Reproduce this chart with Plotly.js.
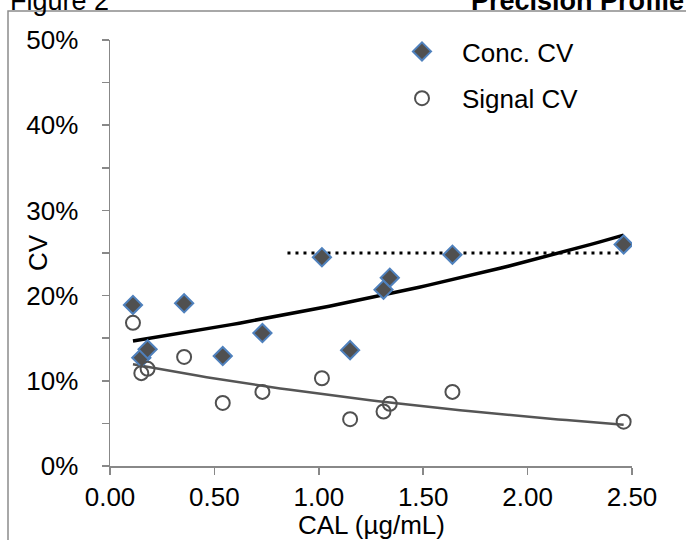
<!DOCTYPE html>
<html><head><meta charset="utf-8">
<script src="https://cdn.plot.ly/plotly-3.0.1.min.js"></script>
<style>html,body{margin:0;padding:0;background:#fff;overflow:hidden}#chart{width:686px;height:540px;}</style>
</head><body><div id="chart"></div>
<script>
// Data
const calValues = [0.11, 0.15, 0.18, 0.355, 0.54, 0.73, 1.015, 1.15, 1.31, 1.34, 1.64, 2.46];
const concCV    = [0.189, 0.127, 0.137, 0.191, 0.129, 0.156, 0.245, 0.136, 0.207, 0.221, 0.248, 0.260];
const signalCV  = [0.168, 0.109, 0.114, 0.128, 0.074, 0.087, 0.103, 0.055, 0.064, 0.073, 0.087, 0.052];
const limitX    = [0.85, 2.45];
const limitCV   = [0.25, 0.25];
const seriesNames = ['Conc. CV', 'Signal CV'];
const xTitle = 'CAL (µg/mL)';
const yTitle = 'CV';

// Exponential trendline (least squares on ln y), as the spreadsheet does
function expFit(xs, ys) {
  const n = xs.length; let sx = 0, sy = 0, sxx = 0, sxy = 0;
  for (let i = 0; i < n; i++) { const l = Math.log(ys[i]); sx += xs[i]; sy += l; sxx += xs[i] * xs[i]; sxy += xs[i] * l; }
  const b = (n * sxy - sx * sy) / (n * sxx - sx * sx); const a = (sy - b * sx) / n;
  return x => Math.exp(a + b * x);
}
function trend(xs, ys) {
  const f = expFit(xs, ys); const lo = Math.min(...xs), hi = Math.max(...xs);
  const tx = [], ty = [];
  for (let i = 0; i <= 60; i++) { const x = lo + (hi - lo) * i / 60; tx.push(x); ty.push(f(x)); }
  return {x: tx, y: ty};
}
const tConc = trend(calValues, concCV);
const tSig = trend(calValues, signalCV);

const FONT = 'Liberation Sans, Arial, sans-serif';
const traces = [
  {x: limitX, y: limitCV, mode: 'lines', showlegend: false, hoverinfo: 'skip',
   line: {color: '#000', width: 3, dash: '3px,5px'}},
  {x: tConc.x, y: tConc.y, mode: 'lines', showlegend: false, line: {color: '#000', width: 3.5}},
  {x: tSig.x, y: tSig.y, mode: 'lines', showlegend: false, line: {color: '#555', width: 2.5}},
  {x: calValues, y: concCV, name: seriesNames[0], mode: 'markers', legendgroup: 'a',
   marker: {symbol: 'diamond', size: 14, color: '#505050', line: {color: '#4f81bd', width: 2}}},
  {x: calValues, y: signalCV, name: seriesNames[1], mode: 'markers', legendgroup: 'b',
   marker: {symbol: 'circle-open', size: 14, color: '#505050', line: {color: '#505050', width: 2}}}
];

const W = 522, H = 426, L = 110, T = 40;
const px = p => (p - L) / W;
const py = p => (T + H - p) / H;

const layout = {
  width: 686, height: 540,
  margin: {l: L, r: 686 - L - W, t: T, b: 540 - T - H, pad: 0},
  paper_bgcolor: '#fff', plot_bgcolor: '#fff',
  font: {family: FONT, size: 26, color: '#000'},
  showlegend: true,
  legend: {x: px(382), y: py(28), xanchor: 'left', yanchor: 'top', bgcolor: 'rgba(0,0,0,0)',
    font: {family: FONT, size: 26, color: '#000'}, itemwidth: 70, tracegroupgap: 10, traceorder: 'grouped'},
  xaxis: {range: [0, 2.5], dtick: 0.5, tickformat: '.2f', showgrid: false, zeroline: false,
    showline: true, linecolor: '#888', linewidth: 1.5, ticks: 'outside', ticklen: 7, tickwidth: 1.5, tickcolor: '#888',
    tickfont: {family: FONT, size: 26}, ticklabelstandoff: 0},
  yaxis: {range: [0, 0.5], dtick: 0.1, tickformat: '.0%', showgrid: false, zeroline: false,
    showline: true, linecolor: '#888', linewidth: 1.5, ticks: 'outside', ticklen: 7, tickwidth: 1.5, tickcolor: '#888',
    minor: {dtick: 0.05, ticks: 'outside', ticklen: 7, tickwidth: 1.5, tickcolor: '#888'},
    tickfont: {family: FONT, size: 26}, ticklabelstandoff: 18},
  shapes: [{type: 'rect', xref: 'paper', yref: 'paper', x0: px(8), x1: px(700), y0: py(560), y1: py(11),
    line: {color: '#8c8c8c', width: 1.5}, fillcolor: 'rgba(0,0,0,0)', layer: 'below'}],
  annotations: [
    {text: xTitle, xref: 'paper', yref: 'paper', x: 0.5, y: py(525), xanchor: 'center', yanchor: 'middle',
     showarrow: false, font: {family: FONT, size: 26, color: '#000'}},
    {text: yTitle, xref: 'paper', yref: 'paper', x: px(38), y: py(253), xanchor: 'center', yanchor: 'middle',
     textangle: -90, showarrow: false, font: {family: FONT, size: 26, color: '#000'}},
    {text: 'Figure 2', xref: 'paper', yref: 'paper', x: px(8), y: py(18), xanchor: 'left', yanchor: 'bottom',
     showarrow: false, font: {family: FONT, size: 27, color: '#000'}},
    {text: '<b>Precision Profile</b>', xref: 'paper', yref: 'paper', x: px(469), y: py(18), xanchor: 'left', yanchor: 'bottom',
     showarrow: false, font: {family: FONT, size: 27, color: '#000'}}
  ]
};
Plotly.newPlot('chart', traces, layout, {displayModeBar: false, staticPlot: true});
</script></body></html>
